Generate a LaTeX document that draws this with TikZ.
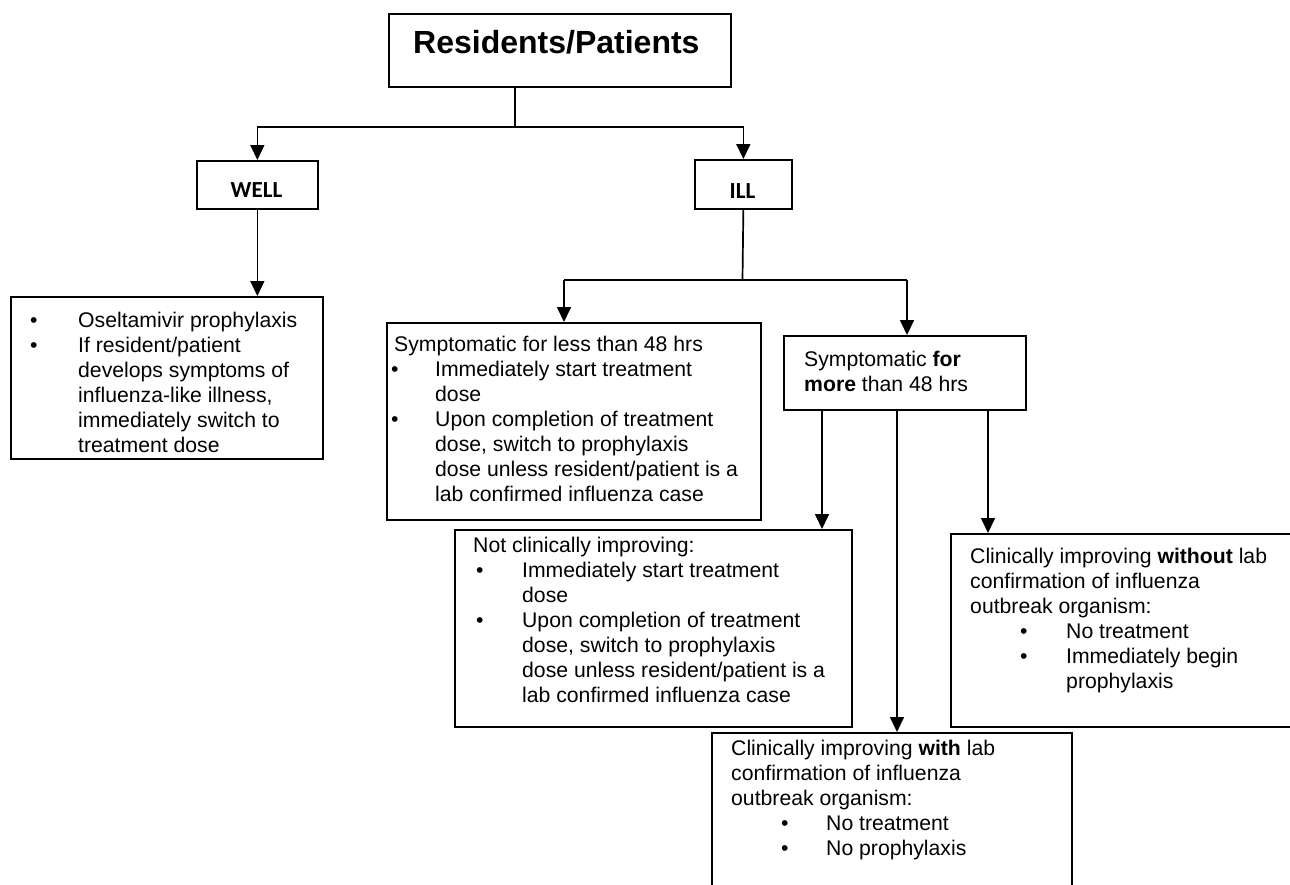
\documentclass[tikz,border=0pt]{standalone}
\usepackage{fontspec}
\setmainfont{Liberation Sans}
\newfontfamily\calfont{Carlito}
\usetikzlibrary{arrows.meta}
\newcommand\itm[3]{\par\noindent\hangindent=#2pt\hangafter=1\makebox[#2pt][l]{\hspace*{#1pt}\textbullet}#3}
\newcommand\bodyfont{\fontsize{21.2}{25}\selectfont}
\tikzset{
  box/.style={draw=black, line width=1.7pt, anchor=north west, inner sep=0pt},
  txt/.style={anchor=base west, inner sep=0pt, font=\bodyfont},
  conn/.style={draw=black, line width=1.7pt},
  arr/.style={conn, -{Triangle[length=15pt,width=14pt]}},
  lbl/.style={anchor=base, inner sep=0pt, font=\calfont\bfseries\fontsize{23}{28}\selectfont}
}
\begin{document}
\begin{tikzpicture}[x=1pt,y=-1pt]
\useasboundingbox (0,0) rectangle (1290,884);
\clip (0,0) rectangle (1290,884);
\fill[white] (0,0) rectangle (1290,884);

% boxes
\node[box, minimum width=342pt, minimum height=73pt] (title) at (388,13) {};
\node[box, minimum width=121pt, minimum height=48pt] (well) at (196,160) {};
\node[box, minimum width=97pt, minimum height=49pt] (ill) at (694,159) {};
\node[box, minimum width=312pt, minimum height=162pt] (wellbox) at (10,296) {};
\node[box, minimum width=374pt, minimum height=197pt] (less) at (386,322) {};
\node[box, minimum width=242pt, minimum height=74pt] (more) at (783,335) {};
\node[box, minimum width=397pt, minimum height=197pt] (notimp) at (454,529) {};
\node[box, minimum width=360pt, minimum height=193pt] (without) at (950,533) {};
\node[box, minimum width=360pt, minimum height=200pt] (with) at (711,732) {};

% texts
\node[anchor=base west, inner sep=0pt, font=\fontsize{32}{38}\selectfont\bfseries] (titletxt) at (413,53) {Residents/Patients};
\node[lbl] (welltxt) at (256.5,197) {WELL};
\node[lbl] (illtxt) at (742.5,198) {ILL};

\node[txt] (wellboxtxt) at (30,327) {\parbox[t]{600pt}{\bodyfont
\itm{0}{48}{Oseltamivir prophylaxis}
\itm{0}{48}{If resident/patient\newline develops symptoms of\newline influenza-like illness,\newline immediately switch to\newline treatment dose}}};

\node[txt] (lesstxt) at (394,351) {\parbox[t]{600pt}{\bodyfont
Symptomatic for less than 48 hrs
\itm{-3}{41}{Immediately start treatment\newline dose}
\itm{-3}{41}{Upon completion of treatment\newline dose, switch to prophylaxis\newline dose unless resident/patient is a\newline lab confirmed influenza case}}};

\node[txt] (moretxt) at (804,366) {\parbox[t]{600pt}{\bodyfont
Symptomatic \textbf{for}\newline \textbf{more} than 48 hrs}};

\node[txt] (notimptxt) at (473,552) {\parbox[t]{600pt}{\bodyfont
Not clinically improving:
\itm{3}{49}{Immediately start treatment\newline dose}
\itm{3}{49}{Upon completion of treatment\newline dose, switch to prophylaxis\newline dose unless resident/patient is a\newline lab confirmed influenza case}}};

\node[txt] (withouttxt) at (970,563) {\parbox[t]{600pt}{\bodyfont
Clinically improving \textbf{without} lab\newline confirmation of influenza\newline outbreak organism:
\itm{50}{96}{No treatment}
\itm{50}{96}{Immediately begin\newline prophylaxis}}};

\node[txt] (withtxt) at (731,755) {\parbox[t]{600pt}{\bodyfont
Clinically improving \textbf{with} lab\newline confirmation of influenza\newline outbreak organism:
\itm{50}{95}{No treatment}
\itm{50}{95}{No prophylaxis}}};

% connectors
\coordinate (j1) at (515,127);
\draw[conn] (title.south -| j1) -- (j1);
\draw[arr] (j1) -| (well.north);
\draw[arr] (j1) -| (ill.north);
\draw[arr] (well.south) -- (wellbox.north -| well.south);

\coordinate (j2) at (742.5,280);
\coordinate (a1) at (564,280);
\coordinate (a2) at (907,280);
\draw[conn] (ill.south) -- (j2);
\draw[conn] (a1) -- (a2);
\draw[arr] (a1) -- (less.north -| a1);
\draw[arr] (a2) -- (more.north -| a2);

\coordinate (b1) at (822,0);
\coordinate (b2) at (897,0);
\coordinate (b3) at (988,0);
\draw[arr] (more.south -| b1) -- (notimp.north -| b1);
\draw[arr] (more.south -| b2) -- (with.north -| b2);
\draw[arr] (more.south -| b3) -- (without.north -| b3);
\end{tikzpicture}
\end{document}
